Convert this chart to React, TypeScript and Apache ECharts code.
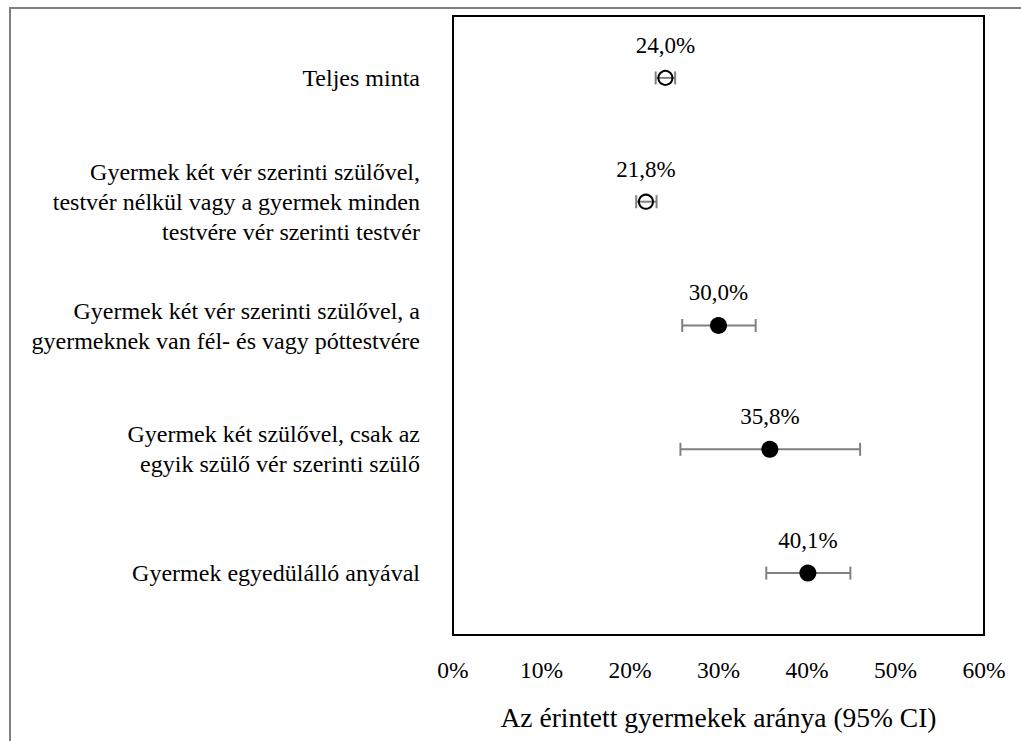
import React, { useEffect, useRef } from "react";
import * as echarts from "echarts";

const categories = [
  "Teljes minta",
  "Gyermek két vér szerinti szülővel,\ntestvér nélkül vagy a gyermek minden\ntestvére vér szerinti testvér",
  "Gyermek két vér szerinti szülővel, a\ngyermeknek van fél- és vagy póttestvére",
  "Gyermek két szülővel, csak az\negyik szülő vér szerinti szülő",
  "Gyermek egyedülálló anyával",
];
const values = [24.0, 21.8, 30.0, 35.8, 40.1];
const lower = [22.9, 20.7, 25.9, 25.7, 35.4];
const upper = [25.1, 23.0, 34.2, 46.0, 44.9];
const hollow = [true, true, false, false, false];
const xTicks = { min: 0, max: 60, interval: 10 };

const FONT = "Liberation Serif";

export default function App() {
  const ref = useRef<HTMLDivElement>(null);
  useEffect(() => {
    if (!ref.current) return;
    const chart = echarts.init(ref.current, null, { renderer: "svg" });
    const errData = categories.map((_, i) => [lower[i], upper[i], i]);
    const pointData = categories.map((_, i) => ({
      value: [values[i], i],
      itemStyle: hollow[i]
        ? { color: "rgba(0,0,0,0)", borderColor: "#000", borderWidth: 2, opacity: 1 }
        : { color: "#000", borderColor: "#000", borderWidth: 0, opacity: 1 },
      symbolSize: hollow[i] ? 14 : 17,
    }));
    chart.setOption({
      animation: false,
      backgroundColor: "#fff",
      textStyle: { fontFamily: FONT },
      graphic: [
        {
          type: "polyline",
          shape: { points: [[10, 760], [10, 8], [1040, 8]] },
          style: { stroke: "#7f7f7f", lineWidth: 2, fill: null },
          z: 100,
        },
      ],
      grid: {
        left: 453,
        top: 16,
        right: 37,
        bottom: 106,
        show: true,
        borderColor: "#000",
        borderWidth: 2,
        backgroundColor: "#fff",
      },
      xAxis: {
        type: "value",
        min: xTicks.min,
        max: xTicks.max,
        interval: xTicks.interval,
        axisLine: { show: false },
        axisTick: { show: false },
        splitLine: { show: false },
        axisLabel: {
          formatter: "{value}%",
          fontSize: 23.5,
          color: "#000",
          margin: 23,
          fontFamily: FONT,
        },
        name: "Az érintett gyermekek aránya (95% CI)",
        nameLocation: "middle",
        nameGap: 68,
        nameMoveOverlap: false,
        nameTextStyle: { fontSize: 27.5, color: "#000", fontFamily: FONT },
      },
      yAxis: {
        type: "category",
        data: categories,
        inverse: true,
        axisLine: { show: false },
        axisTick: { show: false },
        splitLine: { show: false },
        axisLabel: {
          fontSize: 24,
          lineHeight: 30,
          color: "#000",
          margin: 33,
          align: "right",
          fontFamily: FONT,
        },
      },
      series: [
        {
          type: "custom",
          data: errData,
          encode: { x: [0, 1], y: 2 },
          z: 2,
          renderItem: (params: any, api: any) => {
            const idx = api.value(2);
            const a = api.coord([api.value(0), idx]);
            const b = api.coord([api.value(1), idx]);
            const h = 6.5;
            const style = { stroke: "#808080", lineWidth: 2 };
            return {
              type: "group",
              children: [
                { type: "line", shape: { x1: a[0], y1: a[1], x2: b[0], y2: b[1] }, style },
                { type: "line", shape: { x1: a[0], y1: a[1] - h, x2: a[0], y2: a[1] + h }, style },
                { type: "line", shape: { x1: b[0], y1: b[1] - h, x2: b[0], y2: b[1] + h }, style },
              ],
            };
          },
        },
        {
          type: "scatter",
          data: pointData,
          symbol: "circle",
          z: 3,
          label: {
            show: true,
            position: "top",
            distance: 13,
            fontSize: 23,
            color: "#000",
            fontFamily: FONT,
            formatter: (p: any) => p.value[0].toFixed(1).replace(".", ",") + "%",
          },
        },
      ],
    });
    return () => chart.dispose();
  }, []);
  return (
    <div
      ref={ref}
      style={{ position: "fixed", left: 0, top: 0, width: 1021, height: 741 }}
    />
  );
}
